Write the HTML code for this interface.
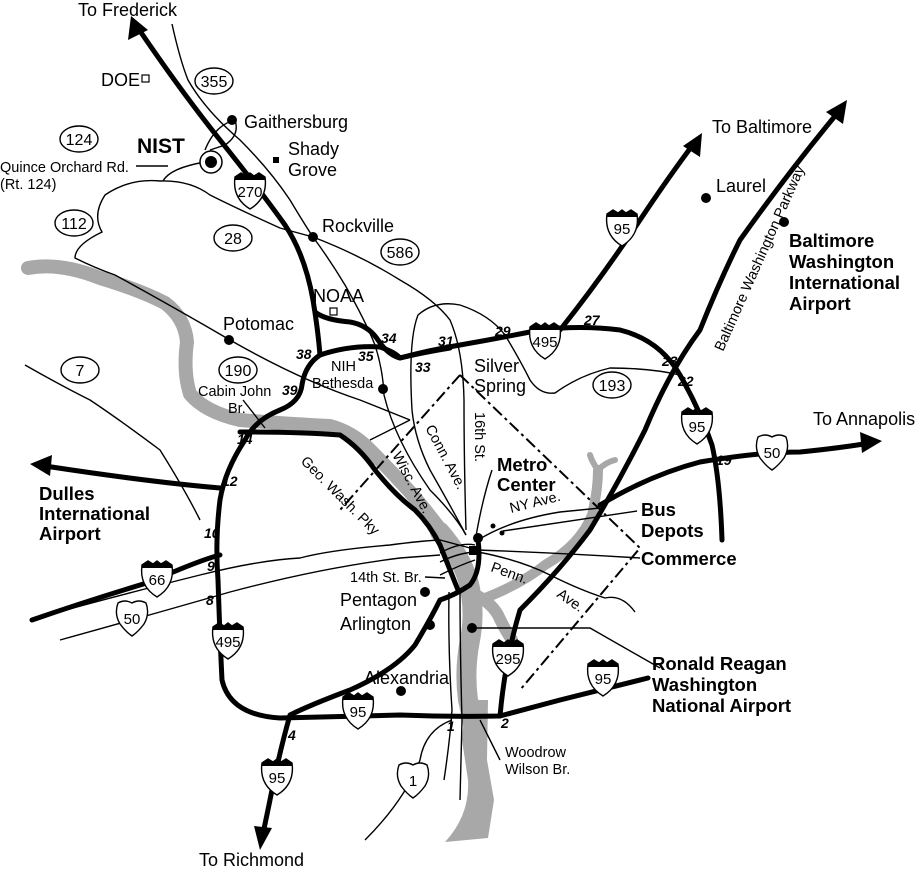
<!DOCTYPE html>
<html><head><meta charset="utf-8"><style>
html,body{margin:0;padding:0;background:#fff}
svg{display:block}
text{font-family:"Liberation Sans",Arial,sans-serif;fill:#000}
.t{font-size:18px}
.b{font-size:18.5px;font-weight:bold}
.x{font-size:14px;font-weight:bold;font-style:italic}
.s{font-size:14.5px}
.th{fill:none;stroke:#000;stroke-width:5;stroke-linecap:round;stroke-linejoin:round}
.tn{fill:none;stroke:#000;stroke-width:1.4}
.ov{fill:#fff;stroke:#000;stroke-width:1.4}
.rv{fill:none;stroke:#a8a8a8;stroke-linecap:round;stroke-linejoin:round}
</style></head><body>
<svg width="921" height="872" viewBox="0 0 921 872" xmlns="http://www.w3.org/2000/svg">
<defs>
<g id="ish"><path d="M-15,-13 L-9,-17 L-4,-14 L0,-17 L4,-14 L9,-17 L15,-13 Q18,8 0,19 Q-18,8 -15,-13 Z" fill="#fff" stroke="#000" stroke-width="1.4"/><path d="M-15,-13 L-9,-17 L-4,-14 L0,-17 L4,-14 L9,-17 L15,-13 L15,-10 L-15,-10 Z" fill="#000"/></g>
<g id="ush"><path d="M-14,-15 Q-7,-19 0,-15 Q7,-19 14,-15 Q18,-4 12,6 Q6,14 0,18 Q-6,14 -12,6 Q-18,-4 -14,-15 Z" fill="#fff" stroke="#000" stroke-width="1.4"/></g>
</defs>

<path class="rv" stroke-width="14" d="M28,268 Q60,262 100,278 Q140,290 165,303 Q185,318 187,342 Q183,372 190,394 Q205,412 240,420 Q290,424 330,426 Q352,432 368,448 Q390,470 410,492 Q430,515 448,540"/>
<path class="rv" stroke-width="20" d="M440,532 Q460,555 468,580 Q476,610 470,640 Q464,670 468,700 Q476,730 476,760"/>
<path d="M466,700 L488,700 L487,760 L494,800 L488,838 L445,842 Q470,815 468,780 L462,740 Z" fill="#a8a8a8"/>
<path class="rv" stroke-width="10" d="M480,600 Q520,585 545,565 Q580,545 592,515 Q598,490 598,470"/>
<path class="rv" stroke-width="6" d="M598,470 Q592,462 590,455 M598,470 Q606,462 615,460"/>
<path class="rv" stroke-width="12" d="M465,590 Q490,600 498,615 Q505,630 512,640"/>

<path class="tn" d="M172,24 Q180,60 188,80 Q205,110 240,140 Q270,170 290,200 Q305,225 313,237"/>
<path class="tn" d="M205,150 Q215,125 235,120 Q240,135 225,145 L210,150"/>
<path class="tn" d="M163,181 Q170,168 205,162"/>
<path class="tn" d="M160,181 Q130,178 105,195 Q92,215 102,232 Q75,245 75,258 Q95,268 115,275 Q170,305 230,340 Q300,380 360,400 Q390,412 410,420"/>
<path class="tn" d="M160,181 Q190,180 210,195 Q240,210 280,228 L313,237 Q360,255 400,280 Q435,300 450,320 Q463,350 464,400 Q464,460 466,530"/>
<path class="tn" d="M313,237 Q330,260 345,285 Q365,320 375,345 Q383,370 384,395 Q395,440 430,490 Q455,515 466,535"/>
<path class="tn" d="M412,410 Q408,340 418,315 Q435,300 460,305 Q490,315 505,335 Q520,360 530,380 Q540,395 555,393 Q580,375 610,368 Q650,368 680,375"/>
<path class="tn" d="M412,410 Q415,440 430,470 Q450,505 466,535"/>
<path class="tn" d="M25,365 Q60,385 90,400 Q120,420 160,450 Q185,490 200,520"/>
<path class="tn" d="M243,400 L265,428"/>
<path class="tn" d="M410,420 Q390,430 370,440"/>
<path class="tn" d="M30,620 Q100,600 200,575 Q260,560 300,558 Q330,550 390,545 Q420,541 440,540 L470,548"/>
<path class="tn" d="M60,640 Q150,615 230,592 Q320,568 400,558 L440,555"/>
<path class="tn" d="M478,540 Q510,520 560,512 L600,508"/>
<path class="tn" d="M503,531 L637,511"/>
<path class="tn" d="M478,550 Q560,553 640,558"/>
<path class="tn" d="M478,552 Q520,560 550,575 Q580,590 605,598 Q622,594 635,612"/>
<path class="tn" d="M475,542 Q482,500 492,470"/>
<path class="tn" d="M440,553 Q460,542 475,545 M440,562 Q460,552 478,552 M440,575 Q460,565 475,560"/>
<path class="tn" d="M449,592 Q448,650 452,710 Q450,740 444,780"/>
<path class="tn" d="M460,590 Q460,650 462,720 L460,800"/>
<path class="tn" d="M452,720 Q425,730 420,760 Q405,800 365,840"/>
<path class="tn" d="M480,720 L500,760"/>
<path class="tn" d="M472,628 L590,628 L660,668"/>
<path class="tn" d="M425,577 L445,578"/>
<path d="M460,375 L640,548 L520,690 M460,375 L340,510" fill="none" stroke="#000" stroke-width="2" stroke-dasharray="12,4,3,4"/>

<path class="th" d="M138,28 Q180,90 220,140 Q260,190 285,225 Q305,255 313,300 Q318,330 320,355"/>
<path class="th" d="M315,312 Q325,320 350,322 Q368,325 378,340 Q388,355 400,358 Q420,353 450,348"/>
<path class="th" d="M320,355 Q305,365 302,385 Q300,402 280,410 Q255,420 245,440 Q225,470 220,500 Q215,540 218,580 Q220,640 222,680 Q230,715 280,718 Q330,717 400,715 Q450,717 500,716 L560,700 Q620,685 648,678"/>
<path class="th" d="M320,355 Q350,345 380,347 Q395,352 400,358 M400,358 Q430,350 460,345 Q500,338 540,330 Q580,325 620,330 Q660,340 680,375 Q700,410 712,445 Q720,480 722,540"/>
<path class="th" d="M560,330 Q600,280 640,220 Q670,175 695,142"/>
<path class="th" d="M500,716 Q505,660 520,610 Q560,570 590,530 Q620,480 645,430 Q670,370 700,330 Q720,280 740,240 Q790,170 840,110"/>
<path class="th" d="M600,505 Q650,475 700,462 Q760,452 800,452 Q840,448 870,443"/>
<path class="th" d="M220,488 Q150,482 45,466"/>
<path class="th" d="M32,620 Q90,600 150,582 Q200,560 220,555"/>
<path class="th" d="M240,432 Q300,432 340,435 Q360,448 375,470 Q395,495 415,510 Q430,525 440,545 Q450,570 458,590"/>
<path class="th" d="M478,540 Q482,570 470,585 Q455,595 440,600 Q430,620 415,645 Q395,670 350,690 Q310,705 290,715 Q280,750 272,790 Q267,815 262,838"/>
<path d="M131,16 L128,40 L148,30 Z" fill="#000"/>
<path d="M702,133 L683,146 L700,157 Z" fill="#000"/>
<path d="M847,100 L826,112 L843,124 Z" fill="#000"/>
<path d="M882,441 L860,432 L862,453 Z" fill="#000"/>
<path d="M30,464 L52,455 L50,476 Z" fill="#000"/>
<path d="M260,850 L254,826 L272,828 Z" fill="#000"/>

<circle cx="211" cy="162" r="11" fill="#fff" stroke="#000" stroke-width="1.5"/>
<circle cx="211" cy="162" r="6" fill="#000"/>
<rect x="142" y="75" width="7" height="7" fill="#fff" stroke="#000" stroke-width="1.2"/>
<rect x="330" y="308" width="7" height="7" fill="#fff" stroke="#000" stroke-width="1.2"/>
<rect x="273" y="157" width="6" height="6" fill="#000"/>
<rect x="469" y="546" width="9" height="9" fill="#000"/>
<g fill="#000">
<circle cx="232" cy="120" r="5"/><circle cx="313" cy="237" r="5"/><circle cx="229" cy="340" r="5"/>
<circle cx="383" cy="389" r="5"/><circle cx="706" cy="198" r="5"/><circle cx="784" cy="222" r="5"/>
<circle cx="478" cy="538" r="5"/><circle cx="493" cy="526" r="2.5"/><circle cx="502" cy="533" r="2.5"/>
<circle cx="425" cy="592" r="5"/><circle cx="430" cy="625" r="5"/><circle cx="472" cy="628" r="5"/><circle cx="401" cy="691" r="5"/>
</g>

<g class="ov"><ellipse cx="214" cy="81" rx="19" ry="13"/><ellipse cx="79" cy="139" rx="19" ry="13"/><ellipse cx="74" cy="223" rx="19" ry="13"/><ellipse cx="233" cy="238" rx="19" ry="13"/><ellipse cx="400" cy="252" rx="19" ry="13"/><ellipse cx="238" cy="370" rx="19" ry="13"/><ellipse cx="80" cy="370" rx="19" ry="13"/><ellipse cx="612" cy="385" rx="19" ry="13"/></g>
<g text-anchor="middle" style="font-size:16px">
<text x="214" y="87">355</text><text x="79" y="145">124</text><text x="74" y="229">112</text><text x="233" y="244">28</text><text x="400" y="258">586</text><text x="238" y="376">190</text><text x="80" y="376">7</text><text x="612" y="391">193</text>
</g>
<use href="#ish" x="250" y="190"/><use href="#ish" x="622" y="227"/><use href="#ish" x="545" y="340"/><use href="#ish" x="697" y="425"/><use href="#ish" x="157" y="578"/><use href="#ish" x="228" y="640"/><use href="#ish" x="508" y="657"/><use href="#ish" x="603" y="677"/><use href="#ish" x="358" y="710"/><use href="#ish" x="277" y="776"/>
<use href="#ush" x="772" y="452"/><use href="#ush" x="132" y="618"/><use href="#ush" x="413" y="780"/>
<g text-anchor="middle" style="font-size:15px">
<text x="250" y="197">270</text><text x="622" y="234">95</text><text x="545" y="347">495</text><text x="697" y="432">95</text><text x="157" y="585">66</text><text x="228" y="647">495</text><text x="508" y="664">295</text><text x="603" y="684">95</text><text x="358" y="717">95</text><text x="277" y="783">95</text><text x="772" y="458">50</text><text x="132" y="624">50</text><text x="413" y="786">1</text>
</g>

<text class="t" x="78" y="16">To Frederick</text>
<text class="t" x="101" y="86">DOE</text>
<text class="t" x="244" y="128">Gaithersburg</text>
<text x="137" y="153" style="font-size:21px;font-weight:bold">NIST</text>
<text class="t" x="288" y="155">Shady</text><text class="t" x="288" y="176">Grove</text>
<text class="s" x="0" y="172">Quince Orchard Rd.</text><text class="s" x="0" y="189">(Rt. 124)</text>
<path class="tn" d="M136,166 L168,166"/>
<text class="t" x="322" y="232">Rockville</text>
<text class="t" x="313" y="302">NOAA</text>
<text class="t" x="223" y="330">Potomac</text>
<text class="s" x="198" y="396">Cabin John</text><text class="s" x="228" y="413">Br.</text>
<text class="s" x="331" y="371">NIH</text><text class="s" x="312" y="388">Bethesda</text>
<text class="t" x="474" y="372">Silver</text><text class="t" x="474" y="392">Spring</text>
<text class="t" x="712" y="133">To Baltimore</text>
<text class="t" x="716" y="192">Laurel</text>
<text class="b" x="789" y="247">Baltimore</text><text class="b" x="789" y="268">Washington</text><text class="b" x="789" y="289">International</text><text class="b" x="789" y="310">Airport</text>
<text class="s" transform="translate(723,352) rotate(-66)">Baltimore Washington Parkway</text>
<text class="t" x="813" y="425">To Annapolis</text>
<text class="b" x="39" y="500">Dulles</text><text class="b" x="39" y="520">International</text><text class="b" x="39" y="540">Airport</text>
<text class="b" x="497" y="471">Metro</text><text class="b" x="497" y="491">Center</text>
<text class="b" x="641" y="516">Bus</text><text class="b" x="641" y="537">Depots</text>
<text class="b" x="641" y="565">Commerce</text>
<text class="s" x="511" y="513" transform="rotate(-14 511 513)">NY Ave.</text>
<text class="s" x="490" y="571" transform="rotate(20 490 571)">Penn.</text>
<text class="s" x="556" y="596" transform="rotate(35 556 596)">Ave.</text>
<text class="s" x="475" y="412" transform="rotate(90 475 412)">16th St.</text>
<text class="s" x="425" y="428" transform="rotate(62 425 428)">Conn. Ave.</text>
<text class="s" x="392" y="455" transform="rotate(62 392 455)">Wisc. Ave.</text>
<text class="s" x="300" y="462" transform="rotate(45 300 462)">Geo. Wash. Pky</text>
<text class="s" x="350" y="582">14th St. Br.</text>
<text class="t" x="340" y="606">Pentagon</text>
<text class="t" x="340" y="630">Arlington</text>
<text class="t" x="364" y="684">Alexandria</text>
<text class="b" x="652" y="670">Ronald Reagan</text><text class="b" x="652" y="691">Washington</text><text class="b" x="652" y="712">National Airport</text>
<text class="s" x="505" y="757">Woodrow</text><text class="s" x="505" y="774">Wilson Br.</text>
<text class="t" x="199" y="866">To Richmond</text>
<g class="x">
<text x="381" y="343">34</text><text x="438" y="346">31</text><text x="495" y="336">29</text><text x="584" y="325">27</text>
<text x="358" y="361">35</text><text x="415" y="372">33</text><text x="296" y="359">38</text><text x="282" y="395">39</text>
<text x="237" y="444">14</text><text x="222" y="486">12</text><text x="204" y="538">10</text><text x="207" y="571">9</text><text x="206" y="605">8</text>
<text x="662" y="366">23</text><text x="678" y="386">22</text><text x="716" y="465">19</text>
<text x="288" y="740">4</text><text x="447" y="731">1</text><text x="501" y="728">2</text>
</g>
</svg>
</body></html>
